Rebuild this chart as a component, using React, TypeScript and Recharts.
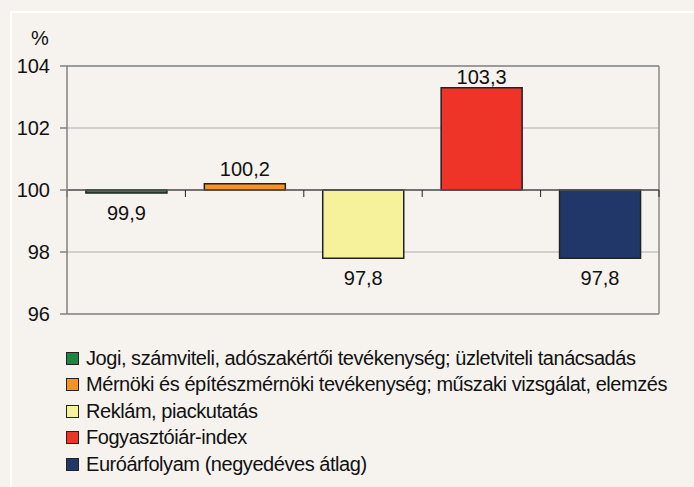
import React from "react";
import { BarChart, Bar, XAxis, YAxis, CartesianGrid, ReferenceLine, LabelList, Cell } from "recharts";

const categories = [
  "Jogi, számviteli, adószakértői tevékenység; üzletviteli tanácsadás",
  "Mérnöki és építészmérnöki tevékenység; műszaki vizsgálat, elemzés",
  "Reklám, piackutatás",
  "Fogyasztóiár-index",
  "Euróárfolyam (negyedéves átlag)",
];
const values = [99.9, 100.2, 97.8, 103.3, 97.8];
const colors = ["#1e8442", "#f7931e", "#f6f29b", "#ee3329", "#213669"];
const yTicks = [96, 98, 100, 102, 104];
const BASE = 100;

const FONT = "'Liberation Sans', Arial, sans-serif";
const BG = "#f6f3ef";
const MARGIN = { top: 66, right: 35, bottom: 173, left: 17 };

const data = categories.map((name, i) => ({
  name,
  range: [Math.min(BASE, values[i]), Math.max(BASE, values[i])],
}));

const fmt = (v: number) => v.toFixed(1).replace(".", ",");

function ValueLabel(props: any) {
  const { x = 0, y = 0, width = 0, height = 0, index = 0 } = props;
  const v = values[index];
  const top = Math.min(y, y + height);
  const bottom = Math.max(y, y + height);
  const cx = x + width / 2;
  const ty = v >= BASE ? Math.max(top - 8, MARGIN.top + 18) : bottom + 27;
  return (
    <text x={cx} y={ty} textAnchor="middle" fontSize={20} fill="#111" fontFamily={FONT}>
      {fmt(v)}
    </text>
  );
}

// 100-es vonal, lefelé mutató osztásokkal a kategóriahatárokon
function BaseLine(props: any) {
  const { x1, x2, y1 } = props;
  const n = categories.length;
  const step = (x2 - x1) / n;
  return (
    <g>
      <line x1={x1} x2={x2} y1={y1} y2={y1} stroke="#555" strokeWidth={1.5} />
      {Array.from({ length: n + 1 }, (_, i) => (
        <line key={i} x1={x1 + i * step} x2={x1 + i * step} y1={y1} y2={y1 + 7} stroke="#222" strokeWidth={1} />
      ))}
    </g>
  );
}

export default function App() {
  return (
    <div
      style={{
        position: "absolute",
        left: 0,
        top: 0,
        width: 694,
        height: 487,
        background: BG,
        overflow: "hidden",
        fontFamily: FONT,
      }}
    >
      <div
        style={{
          position: "absolute",
          left: 10,
          top: 11,
          right: -10,
          bottom: -10,
          borderLeft: "2px solid #fff",
          borderTop: "2px solid #fff",
        }}
      />
      <span style={{ position: "absolute", left: 31, top: 27, fontSize: 20, color: "#111" }}>%</span>
      <div style={{ position: "absolute", left: 0, top: 0 }}>
        <BarChart width={694} height={487} data={data} margin={MARGIN} barCategoryGap="16%">
          <CartesianGrid vertical={false} stroke="#c4c4c4" strokeWidth={1.5} />
          <CartesianGrid
            stroke="#8a8a8a"
            strokeWidth={1.5}
            horizontalCoordinatesGenerator={({ offset }: any) => [offset.top, offset.top + offset.height]}
            verticalCoordinatesGenerator={({ offset }: any) => [offset.left + offset.width]}
          />
          <XAxis dataKey="name" hide />
          <YAxis
            domain={[96, 104]}
            ticks={yTicks}
            interval={0}
            width={50}
            tickSize={7}
            tickMargin={10}
            axisLine={{ stroke: "#808080", strokeWidth: 1.5 }}
            tickLine={{ stroke: "#808080", strokeWidth: 1.5 }}
            tick={{ fontSize: 20, fill: "#111", fontFamily: FONT }}
          />
          <Bar dataKey="range" isAnimationActive={false} stroke="#222" strokeWidth={1.5}>
            {data.map((d, i) => (
              <Cell key={d.name} fill={colors[i]} />
            ))}
            <LabelList dataKey="range" content={(p: any) => <ValueLabel {...p} />} />
          </Bar>
          <ReferenceLine y={BASE} shape={(p: any) => <BaseLine {...p} />} />
        </BarChart>
      </div>
      <div style={{ position: "absolute", left: 66, top: 345 }}>
        {categories.map((c, i) => (
          <div key={c} style={{ display: "flex", alignItems: "center", height: 26.5 }}>
            <span
              style={{
                width: 13,
                height: 13,
                boxSizing: "border-box",
                border: "1.5px solid #222",
                background: colors[i],
                marginRight: 7,
                flexShrink: 0,
              }}
            />
            <span style={{ fontSize: 20, color: "#111", whiteSpace: "nowrap", letterSpacing: "-0.45px" }}>{c}</span>
          </div>
        ))}
      </div>
    </div>
  );
}
